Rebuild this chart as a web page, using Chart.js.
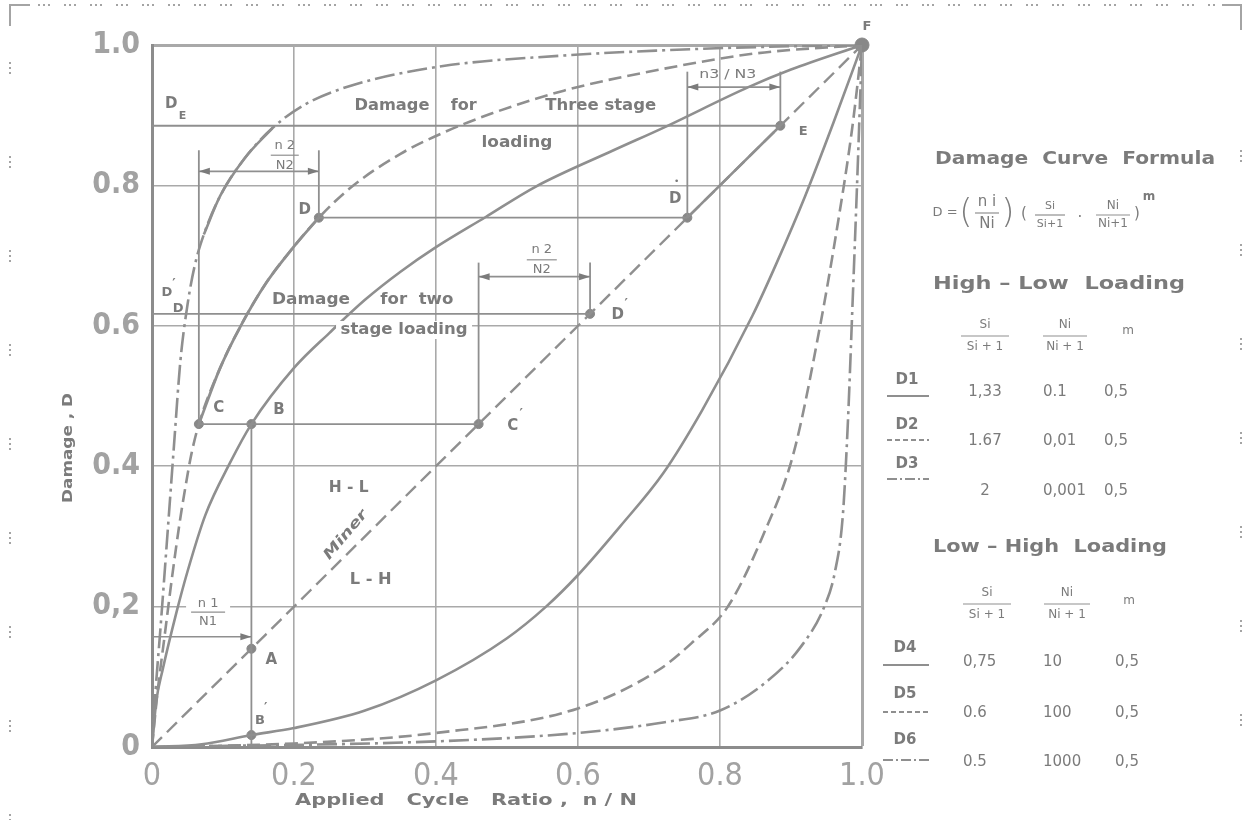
<!DOCTYPE html>
<html>
<head>
<meta charset="utf-8">
<title>Damage curves</title>
<script src="https://cdn.jsdelivr.net/npm/chart.js@4.4.0/dist/chart.umd.min.js"></script>
<style>
  html, body { margin: 0; padding: 0; background: #fff; }
  #wrap { position: relative; width: 1249px; height: 824px; }
</style>
</head>
<body>
<div id="wrap"><canvas id="damageChart" width="1249" height="824"></canvas></div>
<script>
// tick labels
const xTickLabels = ['0', '0.2', '0.4', '0.6', '0.8', '1.0'];
const yTickLabels = ['0', '0,2', '0.4', '0.6', '0.8', '1.0'];

// high-low loading curves (n/N, D)
const d1Points = [[0, 0], [0.006, 0.065], [0.015, 0.11], [0.034, 0.19], [0.05, 0.25], [0.075, 0.33], [0.11, 0.405],
  [0.14, 0.46], [0.2, 0.54], [0.25, 0.59], [0.3, 0.637], [0.35, 0.677], [0.4, 0.712], [0.47, 0.755], [0.54, 0.798],
  [0.65, 0.85], [0.72, 0.882], [0.84, 0.94], [0.9, 0.965], [1, 1]];
const d2Points = [[0, 0], [0.008, 0.08], [0.018, 0.16], [0.028, 0.24], [0.039, 0.32], [0.047, 0.37], [0.055, 0.415],
  [0.066, 0.46], [0.096, 0.54], [0.125, 0.6], [0.16, 0.66], [0.2, 0.713], [0.235, 0.754], [0.28, 0.797],
  [0.35, 0.845], [0.41, 0.875], [0.48, 0.903], [0.58, 0.935], [0.71, 0.964], [0.85, 0.988], [1, 1]];
const d3Points = [[0, 0], [0.005, 0.08], [0.012, 0.17], [0.023, 0.32], [0.031, 0.43], [0.04, 0.55], [0.05, 0.63],
  [0.06, 0.685], [0.073, 0.73], [0.096, 0.785], [0.13, 0.838], [0.17, 0.882], [0.215, 0.915], [0.28, 0.942],
  [0.41, 0.97], [0.58, 0.985], [0.71, 0.992], [0.85, 0.997], [1, 1]];

// low-high loading curves
const d4Points = [[0, 0], [0.07, 0.004], [0.14, 0.017], [0.2, 0.027], [0.3, 0.052], [0.4, 0.095], [0.5, 0.155],
  [0.555, 0.2], [0.6, 0.245], [0.66, 0.315], [0.72, 0.39], [0.775, 0.48], [0.846, 0.615], [0.88, 0.69],
  [0.92, 0.785], [0.96, 0.89], [1, 1]];
const d5Points = [[0, 0], [0.2, 0.005], [0.4, 0.02], [0.6, 0.055], [0.714, 0.11], [0.76, 0.148], [0.811, 0.2],
  [0.86, 0.3], [0.904, 0.42], [0.941, 0.6], [0.965, 0.74], [0.986, 0.88], [1, 1]];
const d6Points = [[0, 0], [0.4, 0.008], [0.6, 0.02], [0.72, 0.035], [0.8, 0.052], [0.868, 0.095], [0.914, 0.143],
  [0.947, 0.2], [0.962, 0.25], [0.973, 0.33], [0.98, 0.46], [0.987, 0.64], [0.993, 0.8], [1, 1]];

// Miner's linear rule
const minerPoints = [[0, 0], [1, 1]];

// loading path points
const markerNames = ['A', 'B', 'B′', 'C', 'C′', 'D', 'D*', 'D′', 'E', 'F'];
const markerX = [0.14, 0.14, 0.14, 0.066, 0.46, 0.235, 0.754, 0.617, 0.885, 1];
const markerY = [0.14, 0.46, 0.017, 0.46, 0.46, 0.754, 0.754, 0.617, 0.885, 1];

// cycle ratio spans: level of the arrow, start marker, end marker
const spanLevels = [0.157, 0.82, 0.67, 0.94];
const spanFrom = ['', 'C', 'C′', 'D*'];
const spanTo = ['A', 'D', 'D′', 'E'];

// formula table
const highLowNames = ['D1', 'D2', 'D3'];
const highLowS = ['1,33', '1.67', '2'];
const highLowN = ['0.1', '0,01', '0,001'];
const highLowM = ['0,5', '0,5', '0,5'];
const lowHighNames = ['D4', 'D5', 'D6'];
const lowHighS = ['0,75', '0.6', '0.5'];
const lowHighN = ['10', '100', '1000'];
const lowHighM = ['0,5', '0,5', '0,5'];

const lineGray = '#8f8f8f';
const gridGray = '#a9a9a9';
const textGray = '#7b7b7b';
const tickGray = '#a2a2a2';
const SOLID = [];
const DASHED = [13, 6];
const DASH_DOT = [20, 5, 3, 5];

function marker(name) {
  const i = markerNames.indexOf(name);
  return { x: markerX[i], y: markerY[i] };
}

function curve(points, dash, width) {
  return {
    data: points.map(p => ({ x: p[0], y: p[1] })),
    showLine: true,
    borderColor: lineGray,
    borderWidth: width || 2.6,
    borderDash: dash,
    pointRadius: 0,
    fill: false,
    cubicInterpolationMode: 'monotone'
  };
}

function segment(a, b, width) {
  return {
    data: [a, b],
    showLine: true,
    borderColor: lineGray,
    borderWidth: width || 1.8,
    borderDash: SOLID,
    pointRadius: 0,
    fill: false
  };
}

const A = marker('A'), B = marker('B'), C = marker('C'), Cp = marker('C′'), D = marker('D');
const Ds = marker('D*'), Dp = marker('D′'), E = marker('E');

// construction lines of the two and three stage loading paths
const constructionSets = [
  segment({ x: 0, y: E.y }, E),
  segment(D, Ds),
  segment({ x: 0, y: Dp.y }, Dp),
  segment(C, Cp),
  segment({ x: B.x, y: 0 }, B),
  segment(C, { x: C.x, y: spanLevels[1] + 0.03 }),
  segment(D, { x: D.x, y: spanLevels[1] + 0.03 }),
  segment(Cp, { x: Cp.x, y: spanLevels[2] + 0.02 }),
  segment(Dp, { x: Dp.x, y: spanLevels[2] + 0.02 }),
  segment(Ds, { x: Ds.x, y: spanLevels[3] + 0.022 }),
  segment(E, { x: E.x, y: spanLevels[3] + 0.022 }),
  segment({ x: 0, y: spanLevels[0] }, { x: A.x, y: spanLevels[0] }, 1.6)
];

// solid stretches of the path drawn along the curves
const pathSets = [
  curve(d2Points.filter(p => p[0] >= C.x && p[0] <= D.x), SOLID, 2.8),
  curve(d3Points.filter(p => p[0] >= 0.073 && p[0] <= 0.17), SOLID, 2.6),
  curve([[Ds.x, Ds.y], [E.x, E.y]], SOLID, 2.6)
];

const markerSet = {
  data: markerNames.map((n, i) => ({ x: markerX[i], y: markerY[i] })),
  showLine: false,
  pointRadius: markerNames.map(n => n === 'F' ? 7 : 4.5),
  pointBackgroundColor: '#888',
  pointBorderColor: '#888',
  clip: false
};

function fitText(ctx, str, x, y, font, width, align) {
  ctx.font = font;
  const w = ctx.measureText(str).width;
  const k = width ? width / w : 1;
  ctx.save();
  ctx.translate(x, y);
  ctx.scale(k, 1);
  ctx.textAlign = align || 'center';
  ctx.textBaseline = 'middle';
  ctx.fillText(str, 0, 0);
  ctx.restore();
}

function fraction(ctx, num, den, cx, cy, font, barW, gap) {
  fitText(ctx, num, cx, cy - gap, font);
  fitText(ctx, den, cx, cy + gap, font);
  ctx.setLineDash([]);
  ctx.lineWidth = 1.2;
  ctx.beginPath();
  ctx.moveTo(cx - barW / 2, cy);
  ctx.lineTo(cx + barW / 2, cy);
  ctx.stroke();
}

function arrowHead(ctx, x, y, dir) {
  ctx.beginPath();
  ctx.moveTo(x, y);
  ctx.lineTo(x - dir * 11, y - 3.5);
  ctx.lineTo(x - dir * 11, y + 3.5);
  ctx.closePath();
  ctx.fill();
}

function sample(ctx, x1, x2, y, dash) {
  ctx.save();
  ctx.setLineDash(dash);
  ctx.lineWidth = 1.8;
  ctx.beginPath();
  ctx.moveTo(x1, y);
  ctx.lineTo(x2, y);
  ctx.stroke();
  ctx.restore();
}

// dotted border of the sheet
const sheetPlugin = {
  id: 'sheet',
  beforeDraw(chart) {
    const ctx = chart.ctx;
    ctx.save();
    ctx.fillStyle = '#fff';
    ctx.fillRect(0, 0, chart.width, chart.height);
    ctx.strokeStyle = '#a4a4a4';
    ctx.lineWidth = 2;
    ctx.beginPath();
    ctx.moveTo(10, 26); ctx.lineTo(10, 5); ctx.lineTo(30, 5);
    ctx.moveTo(1222, 5); ctx.lineTo(1241, 5); ctx.lineTo(1241, 30);
    ctx.stroke();
    ctx.setLineDash([2, 3, 2, 3, 2, 14]);
    ctx.beginPath();
    ctx.moveTo(38, 5); ctx.lineTo(1215, 5);
    ctx.stroke();
    ctx.setLineDash([2, 3, 2, 3, 2, 82]);
    ctx.beginPath();
    ctx.moveTo(10, 62); ctx.lineTo(10, 820);
    ctx.moveTo(1241, 150); ctx.lineTo(1241, 800);
    ctx.stroke();
    ctx.restore();
  }
};

const annotationPlugin = {
  id: 'damageAnnotations',
  afterDatasetsDraw(chart) {
    const { ctx, scales: { x, y } } = chart;
    const px = v => x.getPixelForValue(v);
    const py = v => y.getPixelForValue(v);
    const label = 'bold 15px "DejaVu Sans", sans-serif';
    const small = 'bold 13px "DejaVu Sans", sans-serif';

    ctx.save();
    ctx.fillStyle = textGray;
    ctx.strokeStyle = lineGray;

    // point labels
    fitText(ctx, 'D', px(0.027), py(0.916), label);
    fitText(ctx, 'E', px(0.043), py(0.898), 'bold 11px "DejaVu Sans", sans-serif');
    fitText(ctx, 'D', px(0.215), py(0.765), label);
    fitText(ctx, 'D', px(0.737), py(0.781), label);
    fitText(ctx, '•', px(0.739), py(0.806), '9px "DejaVu Sans", sans-serif');
    fitText(ctx, 'E', px(0.917), py(0.877), small);
    fitText(ctx, 'D', px(0.656), py(0.615), label);
    fitText(ctx, '′', px(0.668), py(0.632), small);
    fitText(ctx, 'D', px(0.021), py(0.647), small);
    fitText(ctx, '′', px(0.031), py(0.66), small);
    fitText(ctx, 'D', px(0.037), py(0.625), small);
    fitText(ctx, 'C', px(0.094), py(0.483), label);
    fitText(ctx, 'B', px(0.179), py(0.48), label);
    fitText(ctx, 'C', px(0.508), py(0.457), label);
    fitText(ctx, '′', px(0.52), py(0.475), small);
    fitText(ctx, 'A', px(0.168), py(0.124), label);
    fitText(ctx, 'B', px(0.152), py(0.037), small);
    fitText(ctx, '′', px(0.16), py(0.056), small);
    fitText(ctx, 'F', px(1.007), py(1.026), 'bold 13px "DejaVu Sans", sans-serif');

    // loading captions
    fitText(ctx, 'Damage', px(0.338), py(0.913), label, 75);
    fitText(ctx, 'for', px(0.439), py(0.913), label, 26);
    fitText(ctx, 'Three stage', px(0.632), py(0.913), label, 111);
    fitText(ctx, 'loading', px(0.514), py(0.86), label, 71);
    fitText(ctx, 'Damage', px(0.224), py(0.637), label, 78);
    fitText(ctx, 'for  two', px(0.373), py(0.637), label, 73);
    ctx.fillStyle = '#fff';
    ctx.fillRect(px(0.355) - 68, py(0.594) - 9, 136, 18);
    ctx.fillStyle = textGray;
    fitText(ctx, 'stage loading', px(0.355), py(0.594), label, 127);
    fitText(ctx, 'H - L', px(0.277), py(0.369), label, 40);
    fitText(ctx, 'L - H', px(0.308), py(0.238), label, 42);
    ctx.save();
    ctx.translate(px(0.273), py(0.302));
    ctx.rotate(-50 * Math.PI / 180);
    fitText(ctx, 'Miner', 0, 0, 'bold italic 14px "DejaVu Sans", sans-serif', 60);
    ctx.restore();

    // cycle ratio spans
    const frac = '13px "DejaVu Sans", sans-serif';
    ctx.lineWidth = 1.6;
    spanLevels.forEach((level, i) => {
      const x1 = spanFrom[i] ? px(marker(spanFrom[i]).x) : px(0);
      const x2 = px(marker(spanTo[i]).x);
      const yy = py(level);
      if (i === 0) {
        arrowHead(ctx, x2, yy, 1);
        return;
      }
      ctx.setLineDash([]);
      ctx.beginPath();
      ctx.moveTo(x1, yy);
      ctx.lineTo(x2, yy);
      ctx.stroke();
      arrowHead(ctx, x1, yy, -1);
      arrowHead(ctx, x2, yy, 1);
    });
    ctx.fillStyle = '#fff';
    ctx.fillRect(px(0.079) - 22, py(0.192) - 18, 44, 36);
    ctx.fillStyle = textGray;
    fraction(ctx, 'n 1', 'N1', px(0.079), py(0.192), frac, 34, 9);
    fraction(ctx, 'n 2', 'N2', px(0.187), py(0.843), frac, 28, 10);
    fraction(ctx, 'n 2', 'N2', px(0.549), py(0.694), frac, 30, 10);
    fitText(ctx, 'n3 / N3', px(0.811), py(0.958), frac, 57);

    // axis titles
    fitText(ctx, 'Applied   Cycle   Ratio ,  n / N', 466, 801, 'bold 15px "DejaVu Sans", sans-serif', 342);
    ctx.save();
    ctx.translate(68, 448);
    ctx.rotate(-Math.PI / 2);
    fitText(ctx, 'Damage , D', 0, 0, 'bold 14px "DejaVu Sans", sans-serif', 110);
    ctx.restore();

    // formula panel
    const head = 'bold 17px "DejaVu Sans", sans-serif';
    const cell = '15px "DejaVu Sans", sans-serif';
    const hdr = '12px "DejaVu Sans", sans-serif';
    fitText(ctx, 'Damage  Curve  Formula', 1075, 160, head, 280);
    fitText(ctx, 'D =', 945, 213, '13px "DejaVu Sans", sans-serif');
    fitText(ctx, '(', 966, 214, '300 34px "DejaVu Sans", sans-serif');
    fitText(ctx, ')', 1008, 214, '300 34px "DejaVu Sans", sans-serif');
    fraction(ctx, 'n i', 'Ni', 987, 213, '15px "DejaVu Sans", sans-serif', 24, 11);
    fitText(ctx, '(', 1024, 214, '15px "DejaVu Sans", sans-serif');
    fraction(ctx, 'Si', 'Si+1', 1050, 215, '11px "DejaVu Sans", sans-serif', 30, 9);
    fitText(ctx, '·', 1080, 218, '15px "DejaVu Sans", sans-serif');
    fraction(ctx, 'Ni', 'Ni+1', 1113, 215, '12px "DejaVu Sans", sans-serif', 34, 9);
    fitText(ctx, ')', 1137, 214, '15px "DejaVu Sans", sans-serif');
    fitText(ctx, 'm', 1149, 197, 'bold 12px "DejaVu Sans", sans-serif');

    fitText(ctx, 'High – Low  Loading', 1059, 285, head, 252);
    fraction(ctx, 'Si', 'Si + 1', 985, 336, hdr, 48, 11);
    fraction(ctx, 'Ni', 'Ni + 1', 1065, 336, hdr, 44, 11);
    fitText(ctx, 'm', 1128, 331, hdr);
    const highRows = [[380, 396, 392], [425, 440, 441], [464, 479, 491]];
    const highDash = [SOLID, [5, 3], [10, 3, 2, 3]];
    highLowNames.forEach((name, i) => {
      const [ly, sy, vy] = highRows[i];
      fitText(ctx, name, 907, ly, 'bold 15px "DejaVu Sans", sans-serif');
      sample(ctx, 887, 929, sy, highDash[i]);
      fitText(ctx, highLowS[i], 985, vy, cell);
      fitText(ctx, highLowN[i], 1043, vy, cell, null, 'left');
      fitText(ctx, highLowM[i], 1116, vy, cell);
    });

    fitText(ctx, 'Low – High  Loading', 1050, 548, head, 234);
    fraction(ctx, 'Si', 'Si + 1', 987, 604, hdr, 48, 11);
    fraction(ctx, 'Ni', 'Ni + 1', 1067, 604, hdr, 46, 11);
    fitText(ctx, 'm', 1129, 601, hdr);
    const lowRows = [[648, 665, 662], [694, 712, 713], [740, 760, 762]];
    const lowDash = [SOLID, [5, 3], [10, 3, 2, 3]];
    lowHighNames.forEach((name, i) => {
      const [ly, sy, vy] = lowRows[i];
      fitText(ctx, name, 905, ly, 'bold 15px "DejaVu Sans", sans-serif');
      sample(ctx, 883, 929, sy, lowDash[i]);
      fitText(ctx, lowHighS[i], 963, vy, cell, null, 'left');
      fitText(ctx, lowHighN[i], 1043, vy, cell, null, 'left');
      fitText(ctx, lowHighM[i], 1127, vy, cell);
    });
    ctx.restore();
  }
};

const datasets = [
  curve(minerPoints, [14, 7], 2.4),
  curve(d1Points, SOLID),
  curve(d2Points, DASHED),
  curve(d3Points, DASH_DOT),
  curve(d4Points, SOLID),
  curve(d5Points, DASHED),
  curve(d6Points, DASH_DOT)
].concat(constructionSets, pathSets, [markerSet]);

const ctx = document.getElementById('damageChart').getContext('2d');
const damageChart = new Chart(ctx, {
  type: 'scatter',
  data: { datasets: datasets },
  options: {
    responsive: false,
    animation: false,
    events: [],
    layout: { padding: { left: 0, right: 387, top: 45, bottom: 0 } },
    plugins: { legend: { display: false }, tooltip: { enabled: false } },
    scales: {
      x: {
        type: 'linear',
        min: 0,
        max: 1,
        afterFit(scale) { scale.height = 77; },
        ticks: {
          stepSize: 0.2,
          color: tickGray,
          padding: 10,
          maxRotation: 0,
          font: { family: '"Liberation Sans Narrow", "DejaVu Sans Condensed", sans-serif', size: 32 },
          callback: (value, index) => xTickLabels[index]
        },
        grid: {
          color: gridGray,
          lineWidth: c => (c.tick && c.tick.value === 1 ? 3 : 1.6),
          drawTicks: false
        },
        border: { display: true, color: '#8c8c8c', width: 3 }
      },
      y: {
        type: 'linear',
        min: 0,
        max: 1,
        afterFit(scale) { scale.width = 152; },
        ticks: {
          stepSize: 0.2,
          color: tickGray,
          padding: 12,
          font: { family: '"Liberation Sans Narrow", "DejaVu Sans Condensed", sans-serif', size: 30, weight: 'bold' },
          callback: (value, index) => yTickLabels[index]
        },
        grid: {
          color: gridGray,
          lineWidth: c => (c.tick && c.tick.value === 1 ? 3 : 1.6),
          drawTicks: false
        },
        border: { display: true, color: '#8c8c8c', width: 3 }
      }
    }
  },
  plugins: [sheetPlugin, annotationPlugin]
});
</script>
</body>
</html>
